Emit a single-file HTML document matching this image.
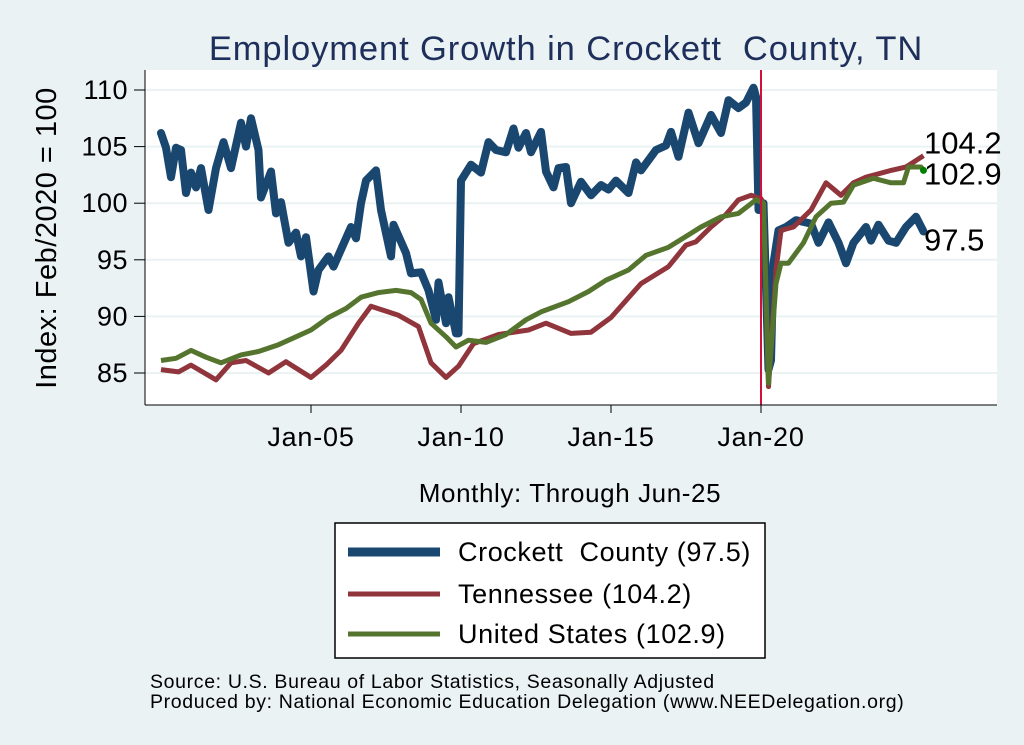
<!DOCTYPE html>
<html><head><meta charset="utf-8"><style>
body{margin:0;background:#eaf2f3;}
svg{display:block;font-family:"Liberation Sans",sans-serif;}
</style></head><body>
<svg id="chart" width="1024" height="745" xml:space="preserve">
<rect x="0" y="0" width="1024" height="745" fill="#eaf2f3"/>
<rect x="145" y="70" width="852" height="335" fill="#fff"/>
<text x="566" y="60" font-size="34.5" letter-spacing="0.9" fill="#1e2f5b" text-anchor="middle">Employment Growth in Crockett&#160; County, TN</text>
<text transform="translate(56,238) rotate(-90)" font-size="29" letter-spacing="0.5" text-anchor="middle">Index: Feb/2020 = 100</text>
<text x="570" y="502" font-size="26" letter-spacing="0.6" text-anchor="middle">Monthly: Through Jun-25</text>
<g id="grid"></g><g id="series"></g><g id="axes"></g>
<rect x="335" y="523" width="430" height="135" fill="#fff" stroke="#000" stroke-width="1.5"/>
<g><line x1="348" y1="552" x2="440" y2="552" stroke="#1a476f" stroke-width="9"/><text x="458" y="561" font-size="27" letter-spacing="0.6">Crockett&#160; County (97.5)</text></g>
<g><line x1="348" y1="594" x2="440" y2="594" stroke="#90353b" stroke-width="5"/><text x="458" y="603" font-size="27" letter-spacing="0.6">Tennessee (104.2)</text></g>
<g><line x1="348" y1="634" x2="440" y2="634" stroke="#55752f" stroke-width="5"/><text x="458" y="643" font-size="27" letter-spacing="0.6">United States (102.9)</text></g>
<text x="150" y="688" font-size="19.5" letter-spacing="0.65">Source: U.S. Bureau of Labor Statistics, Seasonally Adjusted</text>
<text x="150" y="708" font-size="19.5" letter-spacing="0.65">Produced by: National Economic Education Delegation (www.NEEDelegation.org)</text>
</svg>
<script>
const yTicks=[85,90,95,100,105,110];
const xTickLabels=["Jan-05","Jan-10","Jan-15","Jan-20"];
const xTickMonths=[60,120,180,240];
const crockettM=[0,2,4,6,8,10,12,14,16,19,22,25,28,32,34,36,39,40,44,46,48,51,54,56,58,61,63,67,69,76,78,80,82,86,88,92,93,98,100,104,107,110,111,114,115,118,119,120,124,128,131,134,138,141,143,146,148,152,154,157,159,162,164,168,172,176,179,182,187,190,192,198,202,204,207,211,215,220,224,227,231,234,237,238,239,241,243,244,245,247,250,254,260,263,267,271,274,277,282,284,287,291,294,298,302,305];
const crockettV=[106.2,104.9,102.3,104.9,104.7,100.9,102.7,101.4,103.1,99.4,103.1,105.4,103.1,107.1,105.0,107.5,104.7,100.5,102.8,99.1,100.1,96.5,97.4,95.3,97.0,92.2,94.1,95.3,94.4,97.9,96.9,100.0,102.0,102.9,99.4,95.3,98.1,95.6,93.8,93.9,92.3,89.7,93.0,89.4,91.7,88.5,88.5,102.0,103.4,102.7,105.4,104.7,104.5,106.6,104.9,106.2,104.5,106.3,102.8,101.4,103.1,103.2,100.0,101.9,100.7,101.6,101.2,102.0,100.9,103.6,102.9,104.7,105.1,106.3,104.1,108.0,105.3,107.8,106.2,109.1,108.4,108.9,110.2,109.4,99.4,100.0,85.3,86.1,94.7,97.6,97.9,98.5,98.2,96.5,98.3,96.5,94.7,96.5,97.9,96.7,98.1,96.7,96.5,97.9,98.8,97.5];
const tnM=[0,7,12,22,28,34,43,50,60,66,72,79,84,95,103,108,114,119,125,135,147,154,164,172,180,192,203,210,214,220,226,231,236,240,241,243,246,248,253,260,266,272,277,282,292,298,305];
const tnV=[85.3,85.1,85.7,84.4,85.9,86.1,85.0,86.0,84.6,85.7,87.0,89.4,90.9,90.1,89.1,85.9,84.6,85.6,87.6,88.4,88.8,89.4,88.5,88.6,89.9,92.9,94.4,96.3,96.6,97.9,99.0,100.3,100.7,100.4,100.0,83.8,94.1,97.6,97.9,99.4,101.8,100.7,101.8,102.3,102.9,103.2,104.2];
const usM=[0,6,12,18,24,32,39,47,54,60,67,74,80,87,94,100,104,108,114,118,123,130,138,146,152,163,171,178,187,194,203,211,216,224,231,238,241,243,246,248,251,257,262,268,273,277,285,292,297,299,304,305];
const usV=[86.1,86.3,87.0,86.4,85.9,86.6,86.9,87.5,88.2,88.8,89.9,90.7,91.7,92.1,92.3,92.1,91.5,89.4,88.2,87.3,87.9,87.7,88.4,89.7,90.4,91.3,92.2,93.2,94.1,95.4,96.1,97.2,97.9,98.8,99.1,100.3,100.0,84.1,92.9,94.7,94.7,96.5,98.8,100.0,100.1,101.6,102.2,101.8,101.8,103.2,103.2,102.9];
const endLabels=["104.2","102.9","97.5"];
const endLabelY=[104.2,102.9,97.5];

const NS="http://www.w3.org/2000/svg";
function X(m){return 161+m*2.5;}
function Y(v){return 90+(110-v)*11.32;}
function mk(tag,attrs,parent){const e=document.createElementNS(NS,tag);for(const k in attrs)e.setAttribute(k,attrs[k]);parent.appendChild(e);return e;}
const grid=document.getElementById('grid'),series=document.getElementById('series'),axes=document.getElementById('axes');
yTicks.forEach(v=>{
  const g=mk('line',{x1:145,x2:997,y1:Y(v),y2:Y(v),stroke:'#eaf2f3','stroke-width':2},grid);
  
  
  const t=mk('line',{x1:134,x2:145,y1:Y(v),y2:Y(v),stroke:'#000','stroke-width':1},axes);
  
  
  const l=mk('text',{x:128,y:Y(v)+9,'font-size':27,'letter-spacing':0.5,'text-anchor':'end'},axes);
  l.textContent=v;
  
  
});
const yax=mk('line',{x1:145,x2:145,y1:70,y2:405,stroke:'#000','stroke-width':1},axes);


const xax=mk('line',{x1:145,x2:997,y1:405,y2:405,stroke:'#000','stroke-width':1},axes);


xTickMonths.forEach((m,i)=>{
  const t=mk('line',{x1:X(m),x2:X(m),y1:405,y2:413,stroke:'#000','stroke-width':1},axes);
  
  
  const l=mk('text',{x:X(m),y:446,'font-size':27,'letter-spacing':0.8,'text-anchor':'middle'},axes);
  l.textContent=xTickLabels[i];
  
  
});
function path(ms,vs){return ms.map((m,i)=>(i?'L':'M')+X(m).toFixed(1)+','+Y(vs[i]).toFixed(1)).join('');}
const c=mk('path',{d:path(crockettM,crockettV),fill:'none',stroke:'#1a476f','stroke-width':8,'stroke-linejoin':'round','stroke-linecap':'round'},series);


const tn=mk('path',{d:path(tnM,tnV),fill:'none',stroke:'#90353b','stroke-width':5,'stroke-linejoin':'round'},series);


const us=mk('path',{d:path(usM,usV),fill:'none',stroke:'#55752f','stroke-width':5,'stroke-linejoin':'round'},series);


const dot=mk('circle',{cx:X(usM[usM.length-1]),cy:Y(usV[usV.length-1]),r:3.5,fill:'#008000'},series);


const vl=mk('line',{x1:X(240),x2:X(240),y1:70,y2:405,stroke:'#d0103a','stroke-width':2},series);


const offs=[-12,4,9];
endLabels.forEach((s,i)=>{
  const l=mk('text',{x:924,y:Y(endLabelY[i])+offs[i]+10,'font-size':31},series);
  l.textContent=s;
  
  
});
</script>
</body></html>
